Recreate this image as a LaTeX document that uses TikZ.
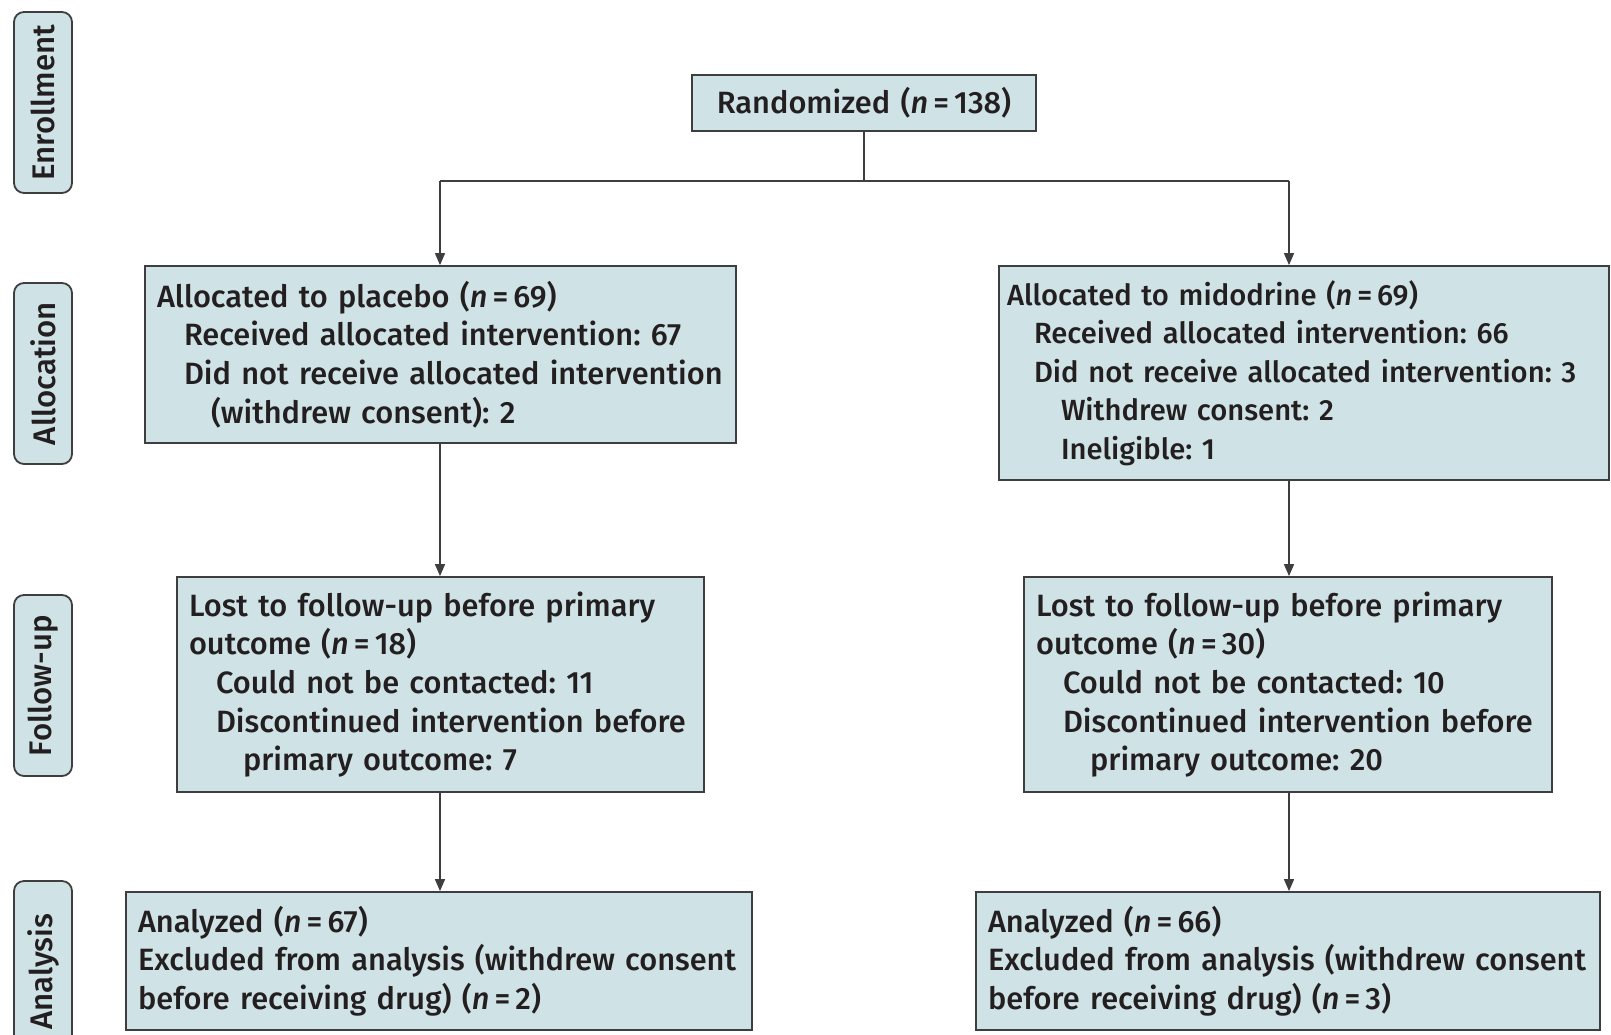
\documentclass[tikz,border=0pt]{standalone}
\usepackage{fontspec}
\setmainfont{Fira Sans}[UprightFont=* Medium, ItalicFont=* Medium Italic]
\usetikzlibrary{arrows.meta, positioning, calc}
\definecolor{cFill}{RGB}{207,226,229}
\definecolor{cLine}{RGB}{62,62,62}
\definecolor{cText}{RGB}{35,31,32}
\newcommand{\nn}[1]{(\textit{n}\,=\,#1)}
\newcommand{\ind}{\hspace*{13.5pt}}
\frenchspacing
\tikzset{
	phase/.style  ={rectangle, rounded corners=5pt, draw=cLine, line width=0.9pt, fill=cFill, minimum width=90.5pt, minimum height=29pt, inner sep=0pt, rotate=90, text=cText, font=\fontsize{15.6}{19.3}\selectfont},
	box/.style    ={rectangle, draw=cLine, line width=0.9pt, fill=cFill, inner xsep=6pt, inner ysep=0pt, align=left, text=cText, font=\fontsize{15.4}{19.3}\selectfont},
	flow/.style   ={-{Triangle[length=6pt, width=5pt]}, line width=0.8pt, draw=cLine},
	link/.style   ={line width=0.8pt, draw=cLine},
}
\begin{document}
\begin{tikzpicture}[x=0.5pt, y=-0.5pt]
	\useasboundingbox (0,0) rectangle (1611,1034);
	% phases on the left
	\node[phase] (pEnrol) at (43,102.5) {Enrollment};
	\node[phase] (pAlloc) at (43,373.5) {Allocation};
	\node[phase] (pFollow) at (43,685.5) {Follow-up};
	\node[phase] (pAnal) at (43,971.5) {Analysis};
	% boxes
	\node[box, align=center, text width=160pt, minimum height=28pt] (rand) at (864,103) {Randomized \nn{138}};
	\node[box, text width=283.5pt, minimum height=88.5pt] (allocP) at (440.5,354.5) {Allocated to placebo \nn{69}\\
		\ind Received allocated intervention: 67\\
		\ind Did not receive allocated intervention\\
		\ind\ind (withdrew consent): 2};
	\node[box, inner xsep=4pt, text width=297pt, minimum height=107pt, font=\fontsize{14.6}{19.3}\selectfont] (allocM) at (1304,373) {Allocated to midodrine \nn{69}\\
		\ind Received allocated intervention: 66\\
		\ind\mbox{Did not receive allocated intervention: 3}\\
		\ind\ind Withdrew consent: 2\\
		\ind\ind Ineligible: 1};
	\node[box, text width=251.5pt, minimum height=107.5pt] (followP) at (440.5,684.5) {Lost to follow-up before primary\\
		outcome \nn{18}\\
		\ind Could not be contacted: 11\\
		\ind Discontinued intervention before\\
		\ind\ind primary outcome: 7};
	\node[box, text width=252pt, minimum height=107.5pt] (followM) at (1288,684.5) {Lost to follow-up before primary\\
		outcome \nn{30}\\
		\ind Could not be contacted: 10\\
		\ind Discontinued intervention before\\
		\ind\ind primary outcome: 20};
	\node[box, text width=301pt, minimum height=69pt] (analP) at (439,961) {Analyzed \nn{67}\\
		Excluded from analysis (withdrew consent\\
		before receiving drug) \nn{2}};
	\node[box, text width=300pt, minimum height=69pt] (analM) at (1288,961) {Analyzed \nn{66}\\
		Excluded from analysis (withdrew consent\\
		before receiving drug) \nn{3}};
	% connectors
	\coordinate (splitL) at (440,181);
	\coordinate (splitR) at (1289,181);
	\draw[link] (rand.south) -- (rand.south |- splitL);
	\draw[link] (splitL) -- (splitR);
	\draw[flow] (splitL) -- (splitL |- allocP.north);
	\draw[flow] (splitR) -- (splitR |- allocM.north);
	\draw[flow] (allocP.south -| splitL) -- (followP.north -| splitL);
	\draw[flow] (allocM.south -| splitR) -- (followM.north -| splitR);
	\draw[flow] (followP.south -| splitL) -- (analP.north -| splitL);
	\draw[flow] (followM.south -| splitR) -- (analM.north -| splitR);
\end{tikzpicture}
\end{document}
